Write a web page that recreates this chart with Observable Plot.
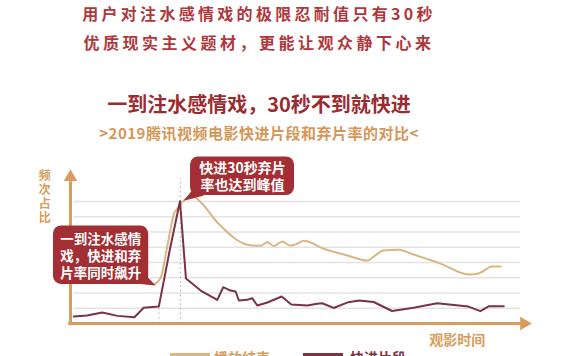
<!DOCTYPE html>
<html><head><meta charset="utf-8">
<script src="https://cdn.jsdelivr.net/npm/d3@7"></script>
<script src="https://cdn.jsdelivr.net/npm/@observablehq/plot@0.6"></script>
<style>
body{margin:0;background:#fff;width:576px;height:356px;overflow:hidden;position:relative;font-family:"Noto Sans CJK SC",sans-serif;}
.t{position:absolute;left:0;width:518px;text-align:center;font-weight:700;white-space:nowrap;}
#chart{position:absolute;top:145px;left:0;}
.lg{position:absolute;font-weight:700;font-size:14px;line-height:20px;white-space:nowrap;}
.sw{position:absolute;height:6px;}
</style></head><body>
<div class="t" id="t1" style="top:3px;line-height:20px;font-size:16px;color:#b0373c;letter-spacing:3.3px"></div>
<div class="t" id="t2" style="top:32px;line-height:20px;font-size:16px;color:#b0373c;letter-spacing:3.5px"></div>
<div class="t" id="t3" style="top:94px;line-height:20px;font-size:20px;color:#9a2c31;"></div>
<div class="t" id="t4" style="top:123px;line-height:20px;font-size:15px;color:#d4975a;letter-spacing:0.5px"></div>
<div id="chart"></div>
<div id="legend"></div>
<script>
// ---- texts ----
const titleLines = [
  "用户对注水感情戏的极限忍耐值只有30秒",
  "优质现实主义题材，更能让观众静下心来",
  "一到注水感情戏，30秒不到就快进",
  ">2019腾讯视频电影快进片段和弃片率的对比<"
];
const seriesNames = ["播放结束", "快进片段"];
const yAxisLabel = "频\n次\n占\n比";
const xAxisLabel = "观影时间";
const calloutTexts = ["快进30秒弃片\n率也达到峰值", "一到注水感情\n戏，快进和弃\n片率同时飙升"];

// ---- series values (x: viewing time, y: share of frequency) ----
const fastT = [0.7, 3.6, 6.9, 10.2, 13.9, 15.9, 19.2, 21.7, 23.8, 25.1, 26.1, 28.3, 31.9, 33.2, 34.8, 35.9, 36.6, 38.4, 39.5, 40.6, 42.8, 45.9, 48.0, 51.5, 53.6, 54.7, 57.2, 60.4, 62.7, 65.9, 69.9, 74.6, 79.7, 86.5, 89.1, 90.9, 94.2];
const fastV = [0.46, 0.52, 0.72, 0.50, 0.41, 1.03, 1.11, 5.0, 8.02, 2.95, 2.71, 2.16, 1.55, 2.38, 2.16, 2.10, 1.51, 1.55, 1.66, 1.18, 1.38, 1.77, 1.25, 1.18, 1.29, 1.33, 1.02, 1.40, 1.51, 1.41, 0.82, 1.03, 1.33, 1.11, 0.81, 1.13, 1.13];
const endT = [18.3, 19.6, 21.0, 22.5, 23.5, 24.3, 25.7, 27.0, 28.3, 32.2, 38.8, 41.3, 42.8, 44.2, 46.0, 47.8, 49.3, 50.7, 55.1, 60.2, 64.5, 65.9, 68.1, 71.3, 74.6, 80.4, 86.6, 88.9, 91.7, 93.5];
const endV = [2.59, 2.98, 5.0, 7.19, 7.63, 7.97, 8.24, 8.28, 7.95, 6.54, 5.15, 5.10, 5.33, 5.08, 5.38, 5.11, 5.23, 5.42, 4.90, 4.46, 4.13, 4.39, 4.79, 4.83, 4.52, 3.93, 3.21, 3.30, 3.74, 3.74];
const gridValues = [1, 2, 3, 4, 5, 6, 7, 8];
const markerT = [19.2, 23.9];

// ---- colours ----
const axisColor = "#d89d5c";
const endColor = "#d9b683";
const fastColor = "#7a3345";
const boxColor = "#a32e33";

document.getElementById("t1").textContent = titleLines[0];
document.getElementById("t2").textContent = titleLines[1];
document.getElementById("t3").textContent = titleLines[2];
document.getElementById("t4").textContent = titleLines[3];

const fastData = fastT.map((t, i) => ({t, v: fastV[i]}));
const endData = endT.map((t, i) => ({t, v: endV[i]}));

const boxes = [
  {x1: 26.1, x2: 48.7, y1: 8.39, y2: 10.92},
  {x1: -3.7, x2: 17.0, y1: 2.56, y2: 6.4}
];
const tails = [
  [{t: 26.5, v: 8.75}, {t: 24.6, v: 8.05}, {t: 29.0, v: 8.39}],
  [{t: 14.5, v: 2.6}, {t: 18.5, v: 2.5}, {t: 16.6, v: 3.1}]
];
const font = "Noto Sans CJK SC";

const chart = Plot.plot({
  width: 576, height: 200,
  marginLeft: 70, marginRight: 46, marginTop: 56, marginBottom: 22,
  x: {domain: [0, 100], axis: null},
  y: {domain: [0, 8], axis: null},
  style: {fontFamily: font, background: "transparent", overflow: "visible"},
  marks: [
    Plot.ruleY(gridValues, {y: d => d, x1: 0.7, x2: 97.8, stroke: "#e3e3e3", strokeWidth: 1.5}),
    Plot.ruleX(markerT.slice(0, 1), {x: d => d, y1: 0, y2: 1.3, stroke: "#b8b8b8", strokeDasharray: "1.5,3", strokeWidth: 1.2}),
    Plot.ruleX(markerT.slice(1), {x: d => d, y1: 0, y2: 9.5, stroke: "#b8b8b8", strokeDasharray: "1.5,3", strokeWidth: 1.2}),
    Plot.line(endData, {x: "t", y: "v", stroke: endColor, strokeWidth: 2, curve: "monotone-x"}),
    Plot.line(fastData, {x: "t", y: "v", stroke: fastColor, strokeWidth: 2}),
    Plot.ruleY([0], {y: d => d, x1: -0.4, x2: 98, stroke: axisColor, strokeWidth: 3}),
    Plot.ruleX([0], {x: d => d, y1: -0.1, y2: 9.3, stroke: axisColor, strokeWidth: 3}),
    Plot.dot([{t: 98.6, v: 0}], {x: "t", y: "v", symbol: "triangle", rotate: 90, r: 5, fill: axisColor}),
    Plot.dot([{t: 0, v: 9.6}], {x: "t", y: "v", symbol: "triangle", r: 5, fill: axisColor}),
    Plot.rect(boxes, {x1: "x1", x2: "x2", y1: "y1", y2: "y2", fill: boxColor, rx: 8}),
    Plot.line(tails[0], {x: "t", y: "v", fill: boxColor, stroke: "none"}),
    Plot.line(tails[1], {x: "t", y: "v", fill: boxColor, stroke: "none"}),
    Plot.text([calloutTexts[0]], {x: 37.4, y: 9.65, text: d => d, fill: "white", fontSize: 14, fontWeight: "bold", lineHeight: 1.15, fontFamily: font}),
    Plot.text([calloutTexts[1]], {x: 6.6, y: 4.48, text: d => d, fill: "white", fontSize: 13.5, fontWeight: "bold", lineHeight: 1.27, fontFamily: font}),
    Plot.text([yAxisLabel], {x: -5.6, y: 8.33, text: d => d, fill: axisColor, fontSize: 12, fontWeight: "bold", lineHeight: 1.15, fontFamily: font}),
    Plot.text([xAxisLabel], {x: 84.1, y: -1.1, text: d => d, fill: axisColor, fontSize: 14, fontWeight: "bold", fontFamily: font})
  ]
});
document.getElementById("chart").appendChild(chart);

// legend (cut by the window bottom, as in the reference)
const lg = document.getElementById("legend");
const items = [
  {name: seriesNames[0], color: endColor, textColor: axisColor, sx: 170, tx: 214},
  {name: seriesNames[1], color: fastColor, textColor: fastColor, sx: 303, tx: 350}
];
items.forEach(it => {
  const s = document.createElement("div");
  s.className = "sw"; s.style.left = it.sx + "px"; s.style.top = "353px"; s.style.width = "40px"; s.style.background = it.color;
  lg.appendChild(s);
  const t = document.createElement("div");
  t.className = "lg"; t.style.left = it.tx + "px"; t.style.top = "347px"; t.style.color = it.textColor; t.textContent = it.name;
  lg.appendChild(t);
});
</script>
</body></html>
